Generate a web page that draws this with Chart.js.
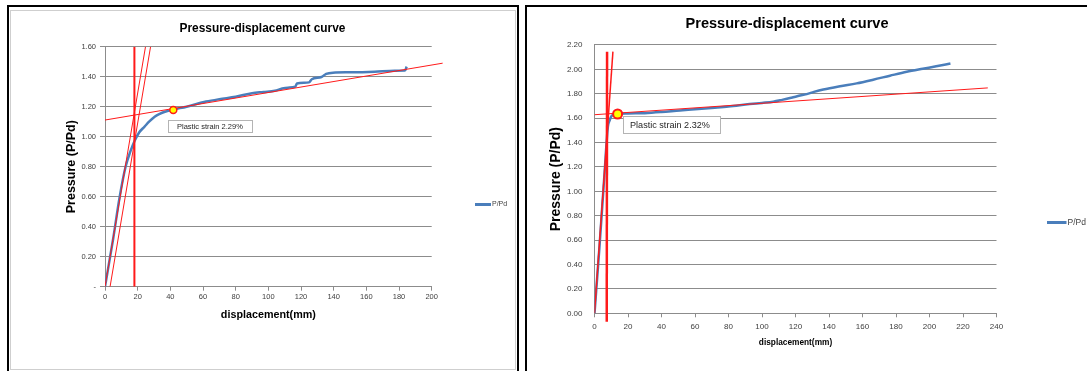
<!DOCTYPE html>
<html>
<head>
<meta charset="utf-8">
<script src="https://cdn.jsdelivr.net/npm/chart.js@4.4.1/dist/chart.umd.min.js"></script>
<style>
  html, body { margin: 0; padding: 0; background: #fff; width: 1087px; height: 371px; overflow: hidden; }
  .box { position: absolute; box-sizing: border-box; }
  #panelA { left: 7px; top: 5px; width: 512px; height: 420px; border: 2px solid #000; }
  #frameA { left: 10px; top: 10px; width: 506px; height: 360px; border: 1px solid #cfcfcf; }
  #panelB { left: 525px; top: 5px; width: 620px; height: 420px; border-left: 2px solid #000; border-top: 2px solid #000; }
  #chartA { position: absolute; left: 11px; top: 11px; }
  #chartB { position: absolute; left: 527px; top: 7px; }
</style>
</head>
<body>
<div class="box" id="panelA"></div>
<div class="box" id="frameA"></div>
<div class="box" id="panelB"></div>
<canvas id="chartA" width="503" height="357"></canvas>
<canvas id="chartB" width="560" height="364"></canvas>
<script>
// 왼쪽 곡선 (소성변형 2.29%)
const dispA = [0, 5, 9, 12.6, 15.5, 18.3, 21, 24.1, 27, 30.4, 33.5, 36.7, 41.3, 50, 61.9, 70, 80, 90,
  97, 104, 108.5, 112, 116.5, 117.5, 124.9, 126.6, 132.5, 135.4, 139.6, 150, 165, 177.3, 183.6, 184.7];
const ratioA = [0, 0.32, 0.6, 0.8, 0.9, 0.976, 1.03, 1.066, 1.1, 1.133, 1.152, 1.166, 1.18, 1.2, 1.234, 1.25, 1.266, 1.29,
  1.298, 1.306, 1.321, 1.327, 1.334, 1.354, 1.362, 1.383, 1.398, 1.419, 1.427, 1.429, 1.433, 1.44, 1.441, 1.467];
const elasticA = [[0, 0], [24.8, 1.6]];
const offsetA = [[3.1, 0], [27.9, 1.6]];
const verticalA = [[18, 0], [18, 1.6]];
const plasticA = [[0, 1.111], [206.7, 1.49]];
const yieldA = [[41.8, 1.178]];
const labelA = 'Plastic strain 2.29%';

// 오른쪽 곡선 (소성변형 2.32%)
const dispB = [0, 3, 6, 8, 9, 10.3, 13.8, 20, 30, 40, 51, 60, 71.8, 80, 92.6, 100, 106.7, 112, 116.7, 121,
  126.7, 131, 136.6, 146.6, 156.5, 166.4, 176.4, 186.4, 196, 204, 212.5];
const ratioB = [0, 0.55, 1.15, 1.53, 1.58, 1.62, 1.634, 1.638, 1.641, 1.65, 1.663, 1.672, 1.685, 1.695, 1.715, 1.725,
  1.735, 1.75, 1.765, 1.78, 1.797, 1.815, 1.835, 1.862, 1.885, 1.915, 1.948, 1.98, 2.005, 2.025, 2.048];
const elasticB = [[0, 0], [11.0, 2.145]];
const verticalB = [[7.3, -0.07], [7.5, 2.145]];
const plasticB = [[0, 1.628], [234.8, 1.848]];
const yieldB = [[13.8, 1.634]];
const labelB = 'Plastic strain 2.32%';

const xTicksA = { min: 0, max: 200, step: 20 };
const yTicksA = { min: 0, max: 1.6, step: 0.2 };
const xTicksB = { min: 0, max: 240, step: 20 };
const yTicksB = { min: 0, max: 2.2, step: 0.2 };

const FONT = '"Liberation Sans", Arial, sans-serif';
const BLUE = '#4a7ebb';
const RED = '#ff1a1a';
const GRID = '#8c8c8c';

const zip = (xs, ys) => xs.map((x, i) => ({ x: x, y: ys[i] }));
const pairs = arr => arr.map(p => ({ x: p[0], y: p[1] }));

// 설명 상자
const calloutPlugin = {
  id: 'callout',
  beforeDatasetsDraw(chart, args, opts) {
    if (!opts.text) return;
    const { ctx, scales } = chart;
    const px = scales.x.getPixelForValue(opts.at[0]);
    const py = scales.y.getPixelForValue(opts.at[1]);
    const left = Math.round(px + opts.dx), top = Math.round(py + opts.dy);
    ctx.save();
    ctx.fillStyle = '#fff';
    ctx.fillRect(left, top, opts.w, opts.h);
    ctx.strokeStyle = '#b4b4b4';
    ctx.lineWidth = 1;
    ctx.strokeRect(left + 0.5, top + 0.5, opts.w, opts.h);
    ctx.fillStyle = '#262626';
    ctx.font = opts.font;
    ctx.textBaseline = 'middle';
    ctx.fillText(opts.text, left + opts.padX, top + opts.h / 2 + 1);
    ctx.restore();
  }
};

// 범례 (선 + 이름)
const lineLegendPlugin = {
  id: 'lineLegend',
  afterDraw(chart, args, opts) {
    const ds = chart.data.datasets[0];
    const { ctx, chartArea } = chart;
    const x0 = chartArea.right + opts.dx;
    const yc = Math.round((chartArea.top + chartArea.bottom) / 2 + opts.dy) + 0.5;
    ctx.save();
    ctx.strokeStyle = ds.borderColor;
    ctx.lineWidth = 3;
    ctx.beginPath();
    ctx.moveTo(x0, yc);
    ctx.lineTo(x0 + opts.len, yc);
    ctx.stroke();
    ctx.fillStyle = '#404040';
    ctx.font = opts.font;
    ctx.textBaseline = 'middle';
    ctx.fillText(ds.label, x0 + opts.len + 1, yc);
    ctx.restore();
  }
};

function redLine(points, width, clip) {
  return {
    label: '', data: pairs(points), showLine: true, borderColor: RED, borderWidth: width,
    pointRadius: 0, order: 1, clip: clip ? false : undefined
  };
}

function buildChart(id, s) {
  const datasets = [
    {
      label: 'P/Pd', data: zip(s.xs, s.ys), showLine: true, borderColor: BLUE, borderWidth: 2.5,
      pointRadius: 0, cubicInterpolationMode: 'monotone', order: 3, yAxisID: 'y'
    },
    ...s.lines,
    {
      label: '', data: pairs(s.mark), pointRadius: s.markR, pointBorderWidth: s.markW,
      pointBackgroundColor: '#ffff00', pointBorderColor: RED, order: 0
    }
  ];
  datasets.forEach(d => { d.xAxisID = 'x'; d.yAxisID = 'y'; });
  return new Chart(document.getElementById(id), {
    type: 'scatter',
    data: { datasets: datasets },
    plugins: [calloutPlugin, lineLegendPlugin],
    options: {
      responsive: false,
      animation: false,
      layout: { padding: { left: 0, top: 0, right: s.padRight, bottom: 0 } },
      plugins: {
        legend: { display: false },
        tooltip: { enabled: false },
        title: {
          display: true, text: 'Pressure-displacement curve', color: '#000',
          font: { family: FONT, size: s.titleSize, weight: 'bold' },
          padding: { top: s.titlePad[0], bottom: s.titlePad[1] }
        },
        callout: s.callout,
        lineLegend: s.legend
      },
      scales: {
        x: {
          type: 'linear', min: s.xt.min, max: s.xt.max,
          afterFit: sc => { sc.height = s.xHeight; },
          ticks: {
            stepSize: s.xt.step, color: '#404040', padding: s.xTickPad,
            font: { family: FONT, size: s.tickSize }
          },
          grid: { drawOnChartArea: false, drawTicks: true, tickLength: 4, tickColor: GRID },
          border: { color: GRID },
          title: {
            display: true, text: 'displacement(mm)', color: '#000',
            font: { family: FONT, size: s.xTitleSize, weight: 'bold' },
            padding: { top: 0, bottom: s.xTitlePad }
          }
        },
        y: {
          type: 'linear', min: s.yt.min, max: s.yt.max,
          afterFit: sc => { sc.width = s.yWidth; },
          ticks: {
            stepSize: s.yt.step, color: '#404040', padding: s.yTickPad,
            font: { family: FONT, size: s.tickSize },
            callback: s.yFormat
          },
          grid: { color: GRID, drawTicks: s.yTickLen > 0, tickLength: s.yTickLen, tickColor: GRID },
          border: { color: GRID },
          title: {
            display: true, text: 'Pressure (P/Pd)', color: '#000',
            font: { family: FONT, size: s.yTitleSize, weight: 'bold' },
            padding: { top: s.yTitlePad, bottom: 0 }
          }
        },
        // 범례 자리 (보이지 않는 오른쪽 축)
        legendSpace: {
          type: 'linear', axis: 'y', position: 'right', display: true,
          afterFit: sc => { sc.width = s.legendWidth; },
          ticks: { display: false },
          grid: { display: false, drawTicks: false },
          border: { display: false }
        }
      }
    }
  });
}

buildChart('chartA', {
  xs: dispA, ys: ratioA, mark: yieldA, markR: 3.5, markW: 1.5,
  lines: [redLine(elasticA, 1), redLine(offsetA, 1), redLine(verticalA, 2), redLine(plasticA, 1, true)],
  xt: xTicksA, yt: yTicksA,
  yFormat: v => (v === 0 ? '-' : v.toFixed(2)),
  padRight: 0, legendWidth: 82.3, titleSize: 11.9, titlePad: [10.9, 10.5],
  xHeight: 81.3, xTickPad: 2, xTitleSize: 10.75, xTitlePad: 46.5,
  yWidth: 94, yTickPad: 4, yTickLen: 5, yTitleSize: 12.5, yTitlePad: 52.8,
  tickSize: 7.5,
  callout: { text: labelA, at: yieldA[0], dx: -5, dy: 10, w: 84, h: 12, padX: 9, font: '7.5px ' + FONT },
  legend: { dx: 43.3, dy: 37.3, len: 16, font: '7px ' + FONT }
});

buildChart('chartB', {
  xs: dispB, ys: ratioB, mark: yieldB, markR: 4.5, markW: 2,
  lines: [redLine(elasticB, 1.5), redLine(verticalB, 2.5, true), redLine(plasticB, 1)],
  xt: xTicksB, yt: yTicksB,
  yFormat: v => v.toFixed(2),
  padRight: 40, legendWidth: 50.5, titleSize: 14.55, titlePad: [8.3, 12.2],
  xHeight: 57.7, xTickPad: 5, xTitleSize: 8.3, xTitlePad: 23,
  yWidth: 67.5, yTickPad: 12, yTickLen: 0, yTitleSize: 14, yTitlePad: 20.3,
  tickSize: 8,
  callout: { text: labelB, at: yieldB[0], dx: 5.3, dy: 1.7, w: 97, h: 17, padX: 7, font: '9.1px ' + FONT },
  legend: { dx: 50.5, dy: 42.8, len: 19.5, font: '8.5px ' + FONT }
});
</script>
</body>
</html>
